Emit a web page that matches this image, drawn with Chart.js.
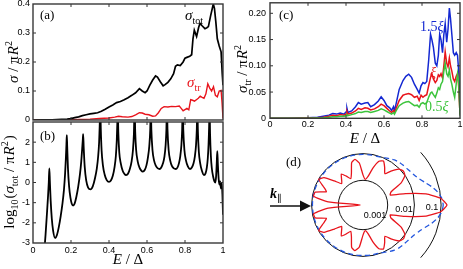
<!DOCTYPE html>
<html><head><meta charset="utf-8">
<script src="https://cdn.jsdelivr.net/npm/chart.js@4/dist/chart.umd.min.js"></script>
<style>
html,body{margin:0;padding:0;background:#fff;width:463px;height:269px;overflow:hidden;position:relative}
canvas{position:absolute}
</style></head><body>
<canvas id="ca" width="238" height="146" style="left:0;top:-12px"></canvas>
<canvas id="cb" width="238" height="161" style="left:0;top:108px"></canvas>
<canvas id="cc" width="245" height="157" style="left:230px;top:-12px"></canvas>
<canvas id="cd" width="200" height="180" style="left:263px;top:115px"></canvas>
<script>
// ---------- DATA ----------
const xTicks = [0, 0.2, 0.4, 0.6, 0.8, 1];
const aYTicks = [0, 0.1, 0.2, 0.3, 0.4];
const bYTicks = [-3, -2, -1, 0, 1, 2];
const cYTicks = [0, 0.05, 0.1, 0.15, 0.2];

// (a) sigma_tot / pi R^2
const aTotE = [0,0.05,0.1,0.15,0.18,0.2,0.22,0.24,0.26,0.28,0.3,0.32,0.34,0.36,0.38,0.4,0.42,0.44,0.46,0.48,0.5,0.52,0.54,0.56,0.575,0.59,0.6,0.615,0.63,0.645,0.655,0.67,0.685,0.695,0.71,0.725,0.74,0.75,0.76,0.775,0.79,0.8,0.81,0.825,0.835,0.842,0.849,0.861,0.872,0.879,0.89,0.905,0.915,0.923,0.935,0.949,0.955,0.962,0.97,0.98,0.99,0.996,1.0];
const aTot  = [0,0.0002,0.0008,0.002,0.003,0.005,0.008,0.011,0.015,0.018,0.021,0.023,0.025,0.03,0.037,0.045,0.052,0.06,0.064,0.07,0.077,0.085,0.094,0.108,0.1,0.094,0.1,0.12,0.138,0.152,0.148,0.132,0.118,0.122,0.13,0.142,0.16,0.185,0.19,0.188,0.2,0.213,0.216,0.22,0.225,0.28,0.31,0.288,0.32,0.333,0.325,0.315,0.318,0.322,0.36,0.4,0.385,0.34,0.28,0.255,0.235,0.16,0.12];
// (a) sigma_tr / pi R^2
const aTrE = [0,0.1,0.2,0.25,0.3,0.35,0.4,0.43,0.45,0.47,0.5,0.52,0.54,0.56,0.575,0.59,0.61,0.63,0.645,0.66,0.675,0.69,0.71,0.73,0.75,0.77,0.78,0.79,0.8,0.81,0.82,0.83,0.84,0.85,0.86,0.87,0.88,0.89,0.9,0.91,0.92,0.93,0.94,0.95,0.96,0.97,0.98,0.99,0.995,1.0];
const aTr  = [0,0.0002,0.001,0.002,0.003,0.005,0.007,0.01,0.013,0.011,0.01,0.012,0.018,0.025,0.024,0.02,0.018,0.013,0.014,0.025,0.04,0.046,0.045,0.047,0.046,0.048,0.04,0.032,0.036,0.04,0.035,0.07,0.068,0.065,0.07,0.075,0.082,0.078,0.075,0.09,0.125,0.11,0.1,0.115,0.085,0.08,0.1,0.102,0.06,0.005];

// (b) log10(sigma_tot / pi R^2)
const bE = [0.058,0.066,0.073,0.079,0.083,0.086,0.089,0.093,0.099,0.106,0.116,0.126,0.136,0.146,0.155,0.163,0.169,0.173,0.176,0.178,0.18,0.184,0.19,0.197,0.204,0.211,0.219,0.228,0.238,0.247,0.254,0.259,0.262,0.264,0.267,0.272,0.28,0.29,0.303,0.315,0.326,0.336,0.343,0.348,0.351,0.354,0.357,0.361,0.368,0.377,0.388,0.4,0.41,0.42,0.429,0.436,0.441,0.444,0.446,0.449,0.454,0.462,0.472,0.481,0.49,0.5,0.51,0.519,0.526,0.531,0.535,0.538,0.543,0.551,0.56,0.569,0.578,0.588,0.597,0.605,0.612,0.617,0.62,0.623,0.629,0.637,0.647,0.657,0.666,0.675,0.684,0.692,0.698,0.702,0.705,0.708,0.714,0.722,0.731,0.741,0.751,0.76,0.768,0.775,0.781,0.785,0.788,0.791,0.797,0.805,0.815,0.826,0.836,0.845,0.852,0.858,0.862,0.865,0.868,0.873,0.88,0.889,0.9,0.908,0.915,0.92,0.924,0.927,0.929,0.932,0.936,0.941,0.948,0.955,0.96,0.964,0.967,0.97,0.973,0.977,0.981,0.985,0.989,0.993,0.997,1.0];
const bLog = [-3.6,-2.6,-1.6,-0.7,0.0,0.7,0.0,-0.9,-1.8,-2.4,-2.75,-2.6,-2.2,-1.65,-1.05,-0.35,0.45,1.2,1.9,2.35,1.8,0.7,-0.2,-0.75,-1.05,-1.14,-1.05,-0.72,-0.2,0.4,1.05,1.7,2.1,2.4,1.7,0.8,0.1,-0.25,-0.34,-0.18,0.2,0.7,1.3,2.0,2.8,3.8,2.6,1.6,0.85,0.4,0.12,0.03,0.1,0.33,0.75,1.3,2.1,3.0,3.8,2.5,1.5,0.95,0.58,0.43,0.37,0.43,0.68,1.05,1.6,2.4,3.8,2.5,1.6,1.05,0.75,0.6,0.54,0.62,0.85,1.25,1.8,2.6,3.8,2.6,1.6,1.1,0.82,0.7,0.67,0.74,0.95,1.3,1.85,2.6,3.8,2.6,1.6,1.1,0.82,0.7,0.67,0.74,0.95,1.3,1.85,2.6,3.8,2.6,1.6,1.1,0.8,0.67,0.74,0.95,1.3,1.85,2.6,3.8,2.5,1.5,0.95,0.58,0.37,0.45,0.75,1.2,1.9,2.8,3.8,2.4,1.35,0.72,0.3,0.06,0.0,0.35,0.95,1.55,0.9,0.2,-0.1,0.05,-0.3,-0.05,-0.6,-1.6];

// (c) sigma_tr / pi R^2 for three widths
const cE = [0,0.1,0.2,0.25,0.28,0.31,0.33,0.35,0.37,0.39,0.4,0.405,0.41,0.43,0.45,0.465,0.48,0.5,0.515,0.53,0.55,0.57,0.585,0.6,0.615,0.63,0.64,0.65,0.655,0.665,0.68,0.7,0.715,0.73,0.745,0.76,0.775,0.785,0.795,0.805,0.815,0.825,0.835,0.845,0.852,0.86,0.87,0.878,0.886,0.893,0.9,0.908,0.915,0.922,0.93,0.937,0.944,0.95,0.957,0.965,0.972,0.98,0.987,0.993,1.0];
const cWide = [0,0.0002,0.001,0.002,0.004,0.006,0.009,0.008,0.01,0.008,0.012,0.019,0.011,0.014,0.022,0.03,0.027,0.029,0.03,0.022,0.026,0.033,0.041,0.034,0.024,0.02,0.015,0.022,0.014,0.03,0.055,0.072,0.08,0.084,0.078,0.065,0.055,0.048,0.062,0.068,0.066,0.07,0.11,0.16,0.15,0.135,0.105,0.1,0.12,0.16,0.15,0.125,0.16,0.18,0.145,0.17,0.21,0.19,0.16,0.125,0.12,0.125,0.12,0.09,0.015];
const cMid = [0,0.0001,0.0005,0.001,0.002,0.004,0.006,0.005,0.007,0.006,0.008,0.013,0.008,0.01,0.014,0.019,0.017,0.02,0.019,0.016,0.018,0.022,0.027,0.024,0.019,0.014,0.011,0.015,0.01,0.02,0.034,0.044,0.046,0.047,0.045,0.04,0.042,0.034,0.044,0.04,0.043,0.045,0.062,0.078,0.085,0.075,0.068,0.072,0.083,0.08,0.085,0.077,0.1,0.127,0.105,0.098,0.115,0.1,0.09,0.075,0.07,0.08,0.085,0.06,0.008];
const cNarrow = [0,0,0.0003,0.0006,0.001,0.002,0.003,0.003,0.004,0.004,0.005,0.007,0.005,0.007,0.009,0.012,0.011,0.013,0.013,0.011,0.013,0.015,0.018,0.016,0.013,0.01,0.008,0.011,0.008,0.015,0.024,0.029,0.031,0.032,0.028,0.024,0.025,0.021,0.028,0.03,0.027,0.03,0.04,0.048,0.05,0.045,0.04,0.048,0.058,0.055,0.065,0.07,0.09,0.105,0.085,0.08,0.092,0.075,0.065,0.05,0.04,0.065,0.085,0.07,0.005];

// (d) angular cross-section (log radial axis), angle in degrees
const polarAngles = [0,5,10,15,20,25,30,35,40,45,50,55,60,65,70,75,80,85,90,95,100,105,110,115,120,125,130,135,140,145,150,155,160,165,170,175,180,185,190,195,200,205,210,215,220,225,230,235,240,245,250,255,260,265,270,275,280,285,290,295,300,305,310,315,320,325,330,335,340,345,350,355];
const polarRed = [0.166,0.099,0.0296,0.0053,0.00145,0.0017,0.0052,0.0098,0.0112,0.0095,0.0056,0.0032,0.005,0.0078,0.0066,0.0032,0.00145,0.0011,0.0016,0.0045,0.0065,0.0052,0.0022,0.00145,0.0021,0.0031,0.0021,0.0016,0.003,0.0072,0.0098,0.0052,0.0034,0.0085,0.009,0.0024,0.00015,0.0024,0.009,0.0085,0.0034,0.0052,0.0098,0.0072,0.003,0.0016,0.0021,0.0031,0.0021,0.00145,0.0022,0.0052,0.0065,0.0045,0.0016,0.0011,0.00145,0.0032,0.0066,0.0078,0.005,0.0032,0.0056,0.0095,0.0112,0.0098,0.0052,0.0017,0.00145,0.0053,0.0296,0.099];
const polarBlue = [0.12,0.108,0.081,0.054,0.035,0.025,0.020,0.0177,0.0162,0.0155,0.0149,0.0136,0.012,0.0105,0.0097,0.0094,0.0093,0.0093,0.0093,0.0093,0.0093,0.0093,0.0093,0.0093,0.0093,0.0093,0.0093,0.0093,0.0093,0.0093,0.0093,0.0093,0.0093,0.0093,0.0093,0.0093,0.0093,0.0093,0.0093,0.0093,0.0093,0.0093,0.0093,0.0093,0.0093,0.0093,0.0093,0.0093,0.0093,0.0093,0.0093,0.0093,0.0093,0.0093,0.0093,0.0093,0.0093,0.0094,0.0097,0.0105,0.012,0.0136,0.0149,0.0155,0.0162,0.0177,0.020,0.025,0.035,0.054,0.081,0.108];
const polarRings = [0.001, 0.01];
const polarArc = 0.1;
const polarRingLabels = ['0.001', '0.01', '0.1'];

// ---------- HELPERS ----------
const SERIF = '"Liberation Serif","DejaVu Serif",serif';
const SANS = '"Liberation Sans",Arial,sans-serif';
const BLUE = '#1428d2', RED = '#e8141c', GREEN = '#3cc43c';

function rich(ctx, x, y, segs, size, o) {
  o = o || {};
  ctx.save(); ctx.translate(x, y); if (o.rot) ctx.rotate(o.rot);
  ctx.fillStyle = o.color || '#000'; ctx.textBaseline = 'alphabetic'; ctx.textAlign = 'left';
  const f = s => (s.it ? 'italic ' : '') + (s.b ? 'bold ' : '') + ((s.sub || s.sup) ? Math.round(size * 0.68) : size) + 'px ' + (s.sans ? SANS : SERIF);
  let w = 0;
  segs.forEach(s => { ctx.font = f(s); w += ctx.measureText(s.t).width + (s.dx || 0); });
  let cx = o.align === 'left' ? 0 : -w / 2;
  segs.forEach(s => {
    ctx.font = f(s); cx += (s.dx || 0);
    const dy = s.sub ? size * 0.28 : (s.sup ? -size * 0.42 : 0);
    ctx.fillText(s.t, cx, dy); cx += ctx.measureText(s.t).width;
  });
  ctx.restore();
}

function framePlugin(cfg) {
  return {
    id: 'frame_' + cfg.id,
    afterDraw(chart) {
      const ctx = chart.ctx, a = chart.chartArea, x = chart.scales.x, y = chart.scales.y;
      ctx.save();
      ctx.strokeStyle = '#333'; ctx.lineWidth = 1;
      const ln = (x1, y1, x2, y2) => { ctx.beginPath(); ctx.moveTo(x1, y1); ctx.lineTo(x2, y2); ctx.stroke(); };
      cfg.xt.forEach(v => { const p = x.getPixelForValue(v); if (p <= a.left + 1 || p >= a.right - 1) return; ln(p, a.bottom, p, a.bottom - 3); ln(p, a.top, p, a.top + 3); });
      cfg.yt.forEach(v => { const p = y.getPixelForValue(v); if (p <= a.top + 1 || p >= a.bottom - 1) return; ln(a.left, p, a.left + 3, p); ln(a.right, p, a.right - 3, p); });
      ctx.lineWidth = 1.4; ctx.strokeStyle = '#383838';
      ctx.strokeRect(a.left, a.top, a.right - a.left, a.bottom - a.top);
      ctx.translate(-cfg.ox, -cfg.oy);
      cfg.texts.forEach(t => rich(ctx, t.x, t.y, t.segs, t.size, t));
      ctx.restore();
    }
  };
}

const setTicks = arr => (s => { s.ticks = arr.map(v => ({ value: v })); });
const tickFont = { family: SANS, size: 9 };
const xFmt = v => (v === 0 ? '0' : v === 1 ? '1' : v.toFixed(1));
const pts = (xs, ys) => xs.map((x, i) => ({ x: x, y: ys[i] }));
const base = { responsive: false, animation: false, events: [], plugins: { legend: { display: false }, tooltip: { enabled: false } } };

// ---------- (a) ----------
new Chart(document.getElementById('ca'), {
  type: 'line',
  data: { datasets: [
    { data: pts(aTotE, aTot), borderColor: '#000', borderWidth: 1.7, pointRadius: 0 },
    { data: pts(aTrE, aTr), borderColor: RED, borderWidth: 1.4, pointRadius: 0 }
  ] },
  options: Object.assign({}, base, {
    layout: { padding: { top: 16, bottom: 14, left: 0, right: 15 } },
    scales: {
      x: { type: 'linear', min: 0, max: 1, display: false, afterBuildTicks: setTicks(xTicks) },
      y: { min: 0, max: 0.4, afterFit: s => { s.width = 33; }, afterBuildTicks: setTicks(aYTicks),
           grid: { display: false, drawTicks: false }, border: { display: false },
           ticks: { padding: 3, font: tickFont, color: '#000', callback: v => (v === 0 ? '0' : v.toFixed(1)) } }
    }
  }),
  plugins: [framePlugin({ id: 'a', ox: 0, oy: -12, xt: xTicks, yt: aYTicks, texts: [
    { x: 40, y: 19, segs: [{ t: '(a)' }], size: 13, align: 'left' },
    { x: 185, y: 20, segs: [{ t: 'σ', it: 1 }, { t: 'tot', sub: 1 }], size: 15, align: 'left' },
    { x: 187, y: 87, segs: [{ t: 'σ', it: 1 }, { t: 'tr', sub: 1 }], size: 15, align: 'left', color: RED },
    { x: 18, y: 62, segs: [{ t: 'σ', it: 1 }, { t: ' / ' }, { t: 'π' }, { t: 'R', it: 1, dx: 1 }, { t: '2', sup: 1 }], size: 15, rot: -Math.PI / 2 }
  ] })]
});

// ---------- (b) ----------
new Chart(document.getElementById('cb'), {
  type: 'line',
  data: { datasets: [
    { data: pts(bE, bLog), borderColor: '#000', borderWidth: 1.8, pointRadius: 0, cubicInterpolationMode: 'monotone' }
  ] },
  options: Object.assign({}, base, {
    layout: { padding: { top: 14, bottom: 6, left: 0, right: 15 } },
    scales: {
      x: { type: 'linear', min: 0, max: 1, afterFit: s => { s.height = 20; }, afterBuildTicks: setTicks(xTicks),
           grid: { display: false, drawTicks: false }, border: { display: false },
           ticks: { padding: 2, font: tickFont, color: '#000', maxRotation: 0, callback: xFmt } },
      y: { min: -3, max: 3, afterFit: s => { s.width = 33; }, afterBuildTicks: setTicks(bYTicks),
           grid: { display: false, drawTicks: false }, border: { display: false },
           ticks: { padding: 3, font: tickFont, color: '#000', callback: v => String(v) } }
    }
  }),
  plugins: [framePlugin({ id: 'b', ox: 0, oy: 108, xt: xTicks, yt: bYTicks, texts: [
    { x: 40, y: 140, segs: [{ t: '(b)' }], size: 13, align: 'left' },
    { x: 14, y: 182, segs: [{ t: 'log' }, { t: '10', sub: 1 }, { t: '(', dx: 1 }, { t: 'σ', it: 1 }, { t: 'tot', sub: 1 }, { t: ' / ' }, { t: 'π' }, { t: 'R', it: 1, dx: 1 }, { t: '2', sup: 1 }, { t: ')', dx: 1 }], size: 15, rot: -Math.PI / 2 },
    { x: 128, y: 264, segs: [{ t: 'E', it: 1 }, { t: ' / ' }, { t: 'Δ' }], size: 15 }
  ] })]
});

// ---------- (c) ----------
new Chart(document.getElementById('cc'), {
  type: 'line',
  data: { datasets: [
    { data: pts(cE, cNarrow), borderColor: GREEN, borderWidth: 1.5, pointRadius: 0 },
    { data: pts(cE, cMid), borderColor: RED, borderWidth: 1.5, pointRadius: 0 },
    { data: pts(cE, cWide), borderColor: BLUE, borderWidth: 1.5, pointRadius: 0 }
  ] },
  options: Object.assign({}, base, {
    layout: { padding: { top: 14.8, bottom: 6.7, left: 0, right: 15 } },
    scales: {
      x: { type: 'linear', min: 0, max: 1, afterFit: s => { s.height = 20; }, afterBuildTicks: setTicks(xTicks),
           grid: { display: false, drawTicks: false }, border: { display: false },
           ticks: { padding: 1, font: tickFont, color: '#000', maxRotation: 0, callback: xFmt } },
      y: { min: 0, max: 0.22, afterFit: s => { s.width = 40; }, afterBuildTicks: setTicks(cYTicks),
           grid: { display: false, drawTicks: false }, border: { display: false },
           ticks: { padding: 4, font: tickFont, color: '#000', callback: v => (v === 0 ? '0' : v.toFixed(2)) } }
    }
  }),
  plugins: [framePlugin({ id: 'c', ox: 230, oy: -12, xt: xTicks, yt: cYTicks, texts: [
    { x: 279, y: 19, segs: [{ t: '(c)' }], size: 13, align: 'left' },
    { x: 420, y: 31, segs: [{ t: '1.5' }, { t: 'ξ', it: 1 }], size: 14, align: 'left', color: BLUE },
    { x: 430, y: 77, segs: [{ t: 'ξ', it: 1 }], size: 14, align: 'left', color: RED },
    { x: 425, y: 111, segs: [{ t: '0.5' }, { t: 'ξ', it: 1 }], size: 14, align: 'left', color: GREEN },
    { x: 247, y: 69, segs: [{ t: 'σ', it: 1 }, { t: 'tr', sub: 1 }, { t: ' / ' }, { t: 'π' }, { t: 'R', it: 1, dx: 1 }, { t: '2', sup: 1 }], size: 15, rot: -Math.PI / 2 },
    { x: 365, y: 143, segs: [{ t: 'E', it: 1 }, { t: ' / ' }, { t: 'Δ' }], size: 15 }
  ] })]
});

// ---------- (d) ----------
const R_MIN = -3.925, PX_PER_DECADE = 26.7;
const polarPlugin = {
  id: 'polarDeco',
  beforeDatasetsDraw(chart) {
    const ctx = chart.ctx, r = chart.scales.r;
    ctx.save(); ctx.strokeStyle = '#111'; ctx.lineWidth = 1;
    polarRings.forEach(v => { const d = r.getDistanceFromCenterForValue(Math.log10(v)); ctx.beginPath(); ctx.arc(r.xCenter, r.yCenter, d, 0, Math.PI * 2); ctx.stroke(); });
    const d3 = r.getDistanceFromCenterForValue(Math.log10(polarArc));
    ctx.beginPath(); ctx.arc(r.xCenter, r.yCenter, d3, -0.74, 0.74); ctx.stroke();
    ctx.restore();
  },
  afterDraw(chart) {
    const ctx = chart.ctx, r = chart.scales.r, cx = r.xCenter, cy = r.yCenter;
    ctx.save();
    ctx.fillStyle = '#000'; ctx.font = '9px ' + SANS; ctx.textAlign = 'center'; ctx.textBaseline = 'middle';
    ctx.fillText(polarRingLabels[0], cx + 12, cy + 10.5);
    ctx.fillText(polarRingLabels[1], cx + 41, cy + 5);
    ctx.fillText(polarRingLabels[2], cx + 69, cy + 2.5);
    // incoming wave arrow
    const ox = 263, oy = 115;
    ctx.strokeStyle = '#111'; ctx.lineWidth = 1.6;
    ctx.beginPath(); ctx.moveTo(270 - ox, 206 - oy); ctx.lineTo(303 - ox, 206 - oy); ctx.stroke();
    ctx.fillStyle = '#111';
    ctx.beginPath(); ctx.moveTo(300 - ox, 200.5 - oy); ctx.lineTo(311 - ox, 206 - oy); ctx.lineTo(300 - ox, 211.5 - oy); ctx.closePath(); ctx.fill();
    ctx.translate(-ox, -oy);
    rich(ctx, 270, 198, [{ t: 'k', it: 1, b: 1 }, { t: '∥', sub: 1 }], 14, { align: 'left' });
    rich(ctx, 286, 166, [{ t: '(d)' }], 13, { align: 'left' });
    ctx.restore();
  }
};
new Chart(document.getElementById('cd'), {
  type: 'radar',
  data: { labels: polarAngles.map(String), datasets: [
    { data: polarRed.map(v => Math.log10(v)), borderColor: RED, borderWidth: 1.3, pointRadius: 0, fill: false, tension: 0.15 },
    { data: polarBlue.map(v => Math.log10(v)), borderColor: '#2255dd', borderWidth: 1.3, borderDash: [5, 3.5], pointRadius: 0, fill: false, tension: 0.2 }
  ] },
  options: Object.assign({}, base, {
    layout: { padding: 0 },
    scales: { r: { min: R_MIN, max: R_MIN + 90 / PX_PER_DECADE, startAngle: 90,
      angleLines: { display: false }, pointLabels: { display: false }, ticks: { display: false },
      grid: { display: false } } }
  }),
  plugins: [polarPlugin]
});
</script>
</body></html>
